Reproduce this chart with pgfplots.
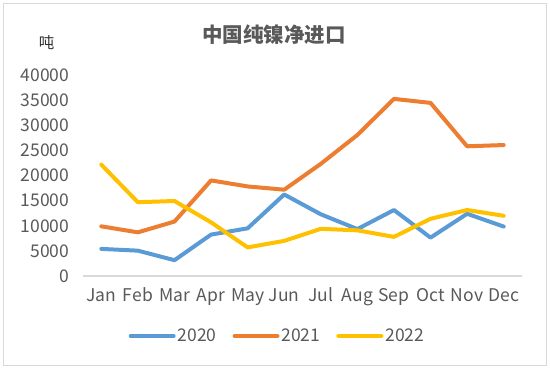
\documentclass[border=0pt]{standalone}
\usepackage{fontspec}
\setmainfont{Noto Sans CJK SC}
\usepackage{pgfplots}
\pgfplotsset{compat=1.18}
\definecolor{c20}{HTML}{5B9BD5}
\definecolor{c21}{HTML}{ED7D31}
\definecolor{c22}{HTML}{FFC000}
\definecolor{txt}{HTML}{595959}
\begin{document}
\begin{tikzpicture}[x=1pt,y=1pt]
\useasboundingbox (0,0) rectangle (550,370);
\draw[color=black!15, line width=1pt] (3.5,4) rectangle (546,366.5);
\node[text=txt, font=\fontsize{20.5}{24}\selectfont\bfseries] at (274,335.7) {中国纯镍净进口};
\node[text=black!80, font=\fontsize{15.5}{18}\selectfont] at (46.7,327) {吨};
\begin{axis}[
  at={(83pt,94pt)}, anchor=south west, scale only axis,
  width=439pt, height=200.7pt,
  xmin=-0.5, xmax=11.5, ymin=0, ymax=40000,
  xtick={0,...,11},
  xticklabels={Jan,Feb,Mar,Apr,May,Jun,Jul,Aug,Sep,Oct,Nov,Dec},
  ytick={0,5000,...,40000},
  scaled y ticks=false,
  /pgf/number format/assume math mode=true,
  /pgf/number format/set thousands separator={},
  /pgf/number format/fixed,
  axis x line=bottom, axis y line=left,
  x axis line style={-, draw=black!15, line width=1.3pt},
  y axis line style={draw=none},
  major tick length=0pt,
  tick label style={font=\fontsize{17.5}{20}\selectfont, text=txt},
  yticklabel style={anchor=east, xshift=-10.3pt},
  xticklabel style={anchor=center, yshift=-21.5pt, text height=12pt, text depth=3.5pt},
  legend style={at={(0.443,-0.299)}, anchor=center, draw=none, fill=none,
    legend columns=3, font=\fontsize{17.5}{20}\selectfont, text=txt,
    /tikz/every even column/.append style={column sep=14pt}},
  legend image code/.code={\draw[#1] (0pt,0pt) -- (43pt,0pt);},
  every axis plot/.append style={line width=4pt, line join=round, line cap=round, mark=none},
]
\addplot[c20] coordinates {(0,5400) (1,5050) (2,3150) (3,8250) (4,9500) (5,16250) (6,12300) (7,9350) (8,13150) (9,7650) (10,12400) (11,9850)};
\addlegendentry{2020}
\addplot[c21] coordinates {(0,9900) (1,8700) (2,10850) (3,19050) (4,17850) (5,17200) (6,22350) (7,28100) (8,35300) (9,34500) (10,25850) (11,26100)};
\addlegendentry{2021}
\addplot[c22] coordinates {(0,22200) (1,14700) (2,14950) (3,10700) (4,5700) (5,7000) (6,9400) (7,9100) (8,7800) (9,11400) (10,13150) (11,12000)};
\addlegendentry{2022}
\end{axis}
\end{tikzpicture}
\end{document}
